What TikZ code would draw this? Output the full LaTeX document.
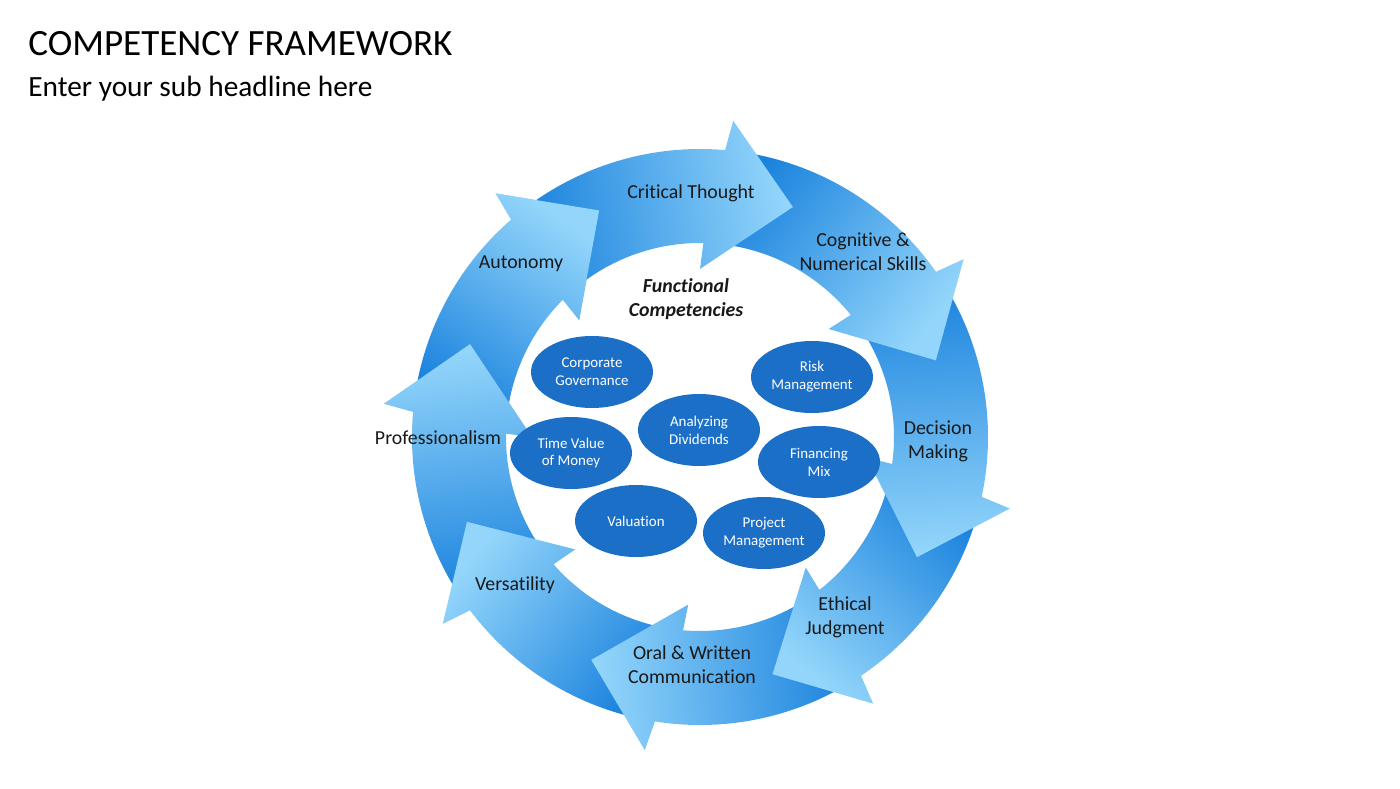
\documentclass[tikz,border=0pt]{standalone}
\usepackage{fontspec}
\setmainfont[Ligatures=NoCommon]{Carlito}
\usetikzlibrary{shapes.geometric}

\definecolor{ringdark}{HTML}{1A82DD}
\definecolor{ringlight}{HTML}{94D6FB}
\definecolor{compblue}{HTML}{1B6FC6}

\newcommand{\ringarrow}[2]{%
  (#2+15:288) arc[start angle=#2+15, end angle=#1+17, radius=288]
  -- (#1+16:318) -- (#1:248) -- (#1+22:168) -- (#1+21:194)
  arc[start angle=#1+21, end angle=#2+18.5, radius=194] -- cycle}

\begin{document}
\begin{tikzpicture}[x=0.02cm, y=0.02cm,
    comp node/.style={ellipse, fill=compblue, text=white, minimum width=2.44cm,
      minimum height=1.44cm, inner sep=0pt, align=center,
      font=\fontsize{8.5}{10.2}\selectfont},
    ring label/.style={align=center, text=black!90, font=\fontsize{11.3}{13.6}\selectfont},
    ring arrow/.style={top color=ringlight, bottom color=ringdark, shading angle=#1}]

  \useasboundingbox (-700,-351) rectangle (700,437);

  \node[anchor=base west, inner sep=0pt, font=\fontsize{21.1}{26}\selectfont] (title) at (-672,381) {COMPETENCY FRAMEWORK};
  \node[anchor=base west, inner sep=0pt, font=\fontsize{16.7}{20}\selectfont] (subtitle) at (-672,340) {Enter your sub headline here};

  \foreach \tip/\prev in {-246/-202, -202/-160, -160/-116, -116/-73, -73/-29, -29/18, 18/68, 68/114}{
    \pgfmathsetmacro\shang{(\tip+\prev+17)/2-180}
    \shade[ring arrow=\shang] \ringarrow{\tip}{\prev};
  }
  \begin{scope}
    \clip (-230:318) -- (-246:248) -- (-224:168) -- cycle;
    \pgfmathsetmacro\shang{(-246-202+17)/2-180}
    \shade[ring arrow=\shang] \ringarrow{-246}{-202};
  \end{scope}

  \node[ring label] (critical) at (-9,244) {Critical Thought};
  \node[ring label] (cognitive) at (163,185) {Cognitive \&\\Numerical Skills};
  \node[ring label] (decision) at (238,-4) {Decision\\Making};
  \node[ring label] (ethical) at (145,-180) {Ethical\\Judgment};
  \node[ring label] (oral) at (-8,-228) {Oral \& Written\\Communication};
  \node[ring label] (versatility) at (-185,-148) {Versatility};
  \node[ring label] (professional) at (-262,-1) {Professionalism};
  \node[ring label] (autonomy) at (-179,173) {Autonomy};
  \node[ring label, font=\fontsize{11.3}{13.6}\selectfont\bfseries\itshape] (functional) at (-14,138) {Functional\\Competencies};

  \node[comp node] (corpgov) at (-108,65) {Corporate\\Governance};
  \node[comp node] (risk) at (112,60) {Risk\\Management};
  \node[comp node] (dividends) at (-1,7) {Analyzing\\Dividends};
  \node[comp node] (timevalue) at (-129,-16) {Time Value\\of Money};
  \node[comp node] (financing) at (119,-25) {Financing\\Mix};
  \node[comp node] (valuation) at (-64,-84) {Valuation};
  \node[comp node] (project) at (64,-96) {Project\\Management};
\end{tikzpicture}
\end{document}
